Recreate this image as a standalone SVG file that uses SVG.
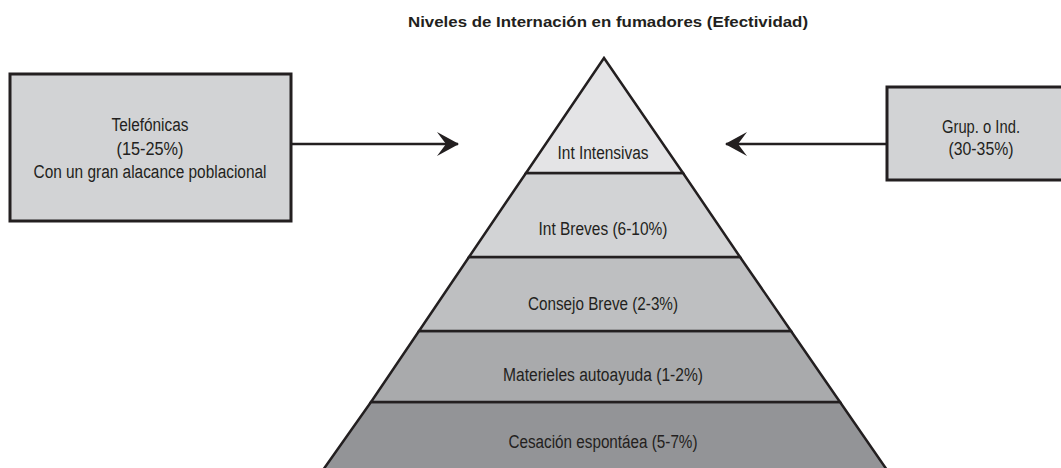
<svg xmlns="http://www.w3.org/2000/svg" width="1061" height="468" viewBox="0 0 1061 468">
<style>
.lbl{font-family:"Liberation Sans",Arial,sans-serif;font-size:18px;fill:#231f20;text-anchor:middle}
.ttl{font-family:"Liberation Sans",Arial,sans-serif;font-size:15.5px;font-weight:bold;fill:#231f20;text-anchor:middle}
.edge{stroke:#231f20;stroke-width:2.5;fill:none}
.box{fill:#d2d3d5;stroke:#231f20;stroke-width:3}
.lay{stroke:#231f20;stroke-width:2.5;stroke-linejoin:miter}
</style>
<defs>
<marker id="arr" viewBox="0 0 22 24" refX="21" refY="12" markerWidth="22" markerHeight="24" markerUnits="userSpaceOnUse" orient="auto">
<path d="M0,0 L22,12 L0,24 L9,12 Z" fill="#231f20"/>
</marker>
</defs>
<rect width="1061" height="468" fill="#ffffff"/>
<text class="ttl" x="608" y="27" textLength="400" lengthAdjust="spacingAndGlyphs">Niveles de Internación en fumadores (Efectividad)</text>
<g id="connectors">
<line class="edge" x1="292" y1="144" x2="458" y2="144" marker-end="url(#arr)"/>
<line class="edge" x1="886" y1="144" x2="726" y2="144" marker-end="url(#arr)"/>
</g>
<g id="node-telefonicas">
<rect class="box" x="10" y="74" width="281" height="147"/>
<text class="lbl" x="150" y="131" textLength="77" lengthAdjust="spacingAndGlyphs">Telefónicas</text>
<text class="lbl" x="150" y="155" textLength="67" lengthAdjust="spacingAndGlyphs">(15-25%)</text>
<text class="lbl" x="150" y="178" textLength="233" lengthAdjust="spacingAndGlyphs">Con un gran alacance poblacional</text>
</g>
<g id="node-grupo">
<rect class="box" x="887" y="87" width="190" height="93"/>
<text class="lbl" x="981" y="133" textLength="78" lengthAdjust="spacingAndGlyphs">Grup. o Ind.</text>
<text class="lbl" x="981" y="155" textLength="65" lengthAdjust="spacingAndGlyphs">(30-35%)</text>
</g>
<g id="node-cesacion">
<polygon class="lay" fill="#939497" points="371,402 840,402 887,470 323,470"/>
<text class="lbl" x="603" y="448" textLength="189" lengthAdjust="spacingAndGlyphs">Cesación espontáea (5-7%)</text>
</g>
<g id="node-materiales">
<polygon class="lay" fill="#a9aaac" points="419,331 791,331 840,402 371,402"/>
<text class="lbl" x="603" y="381" textLength="200" lengthAdjust="spacingAndGlyphs">Materieles autoayuda (1-2%)</text>
</g>
<g id="node-consejo">
<polygon class="lay" fill="#bebfc1" points="469,257 740,257 791,331 419,331"/>
<text class="lbl" x="603" y="310" textLength="150" lengthAdjust="spacingAndGlyphs">Consejo Breve (2-3%)</text>
</g>
<g id="node-breves">
<polygon class="lay" fill="#d2d3d5" points="526,173 683,173 740,257 469,257"/>
<text class="lbl" x="603" y="235" textLength="129" lengthAdjust="spacingAndGlyphs">Int Breves (6-10%)</text>
</g>
<g id="node-intensivas">
<polygon class="lay" fill="#e4e4e6" points="604,58 683,173 526,173"/>
<text class="lbl" x="603" y="159" textLength="91" lengthAdjust="spacingAndGlyphs">Int Intensivas</text>
</g>
</svg>
